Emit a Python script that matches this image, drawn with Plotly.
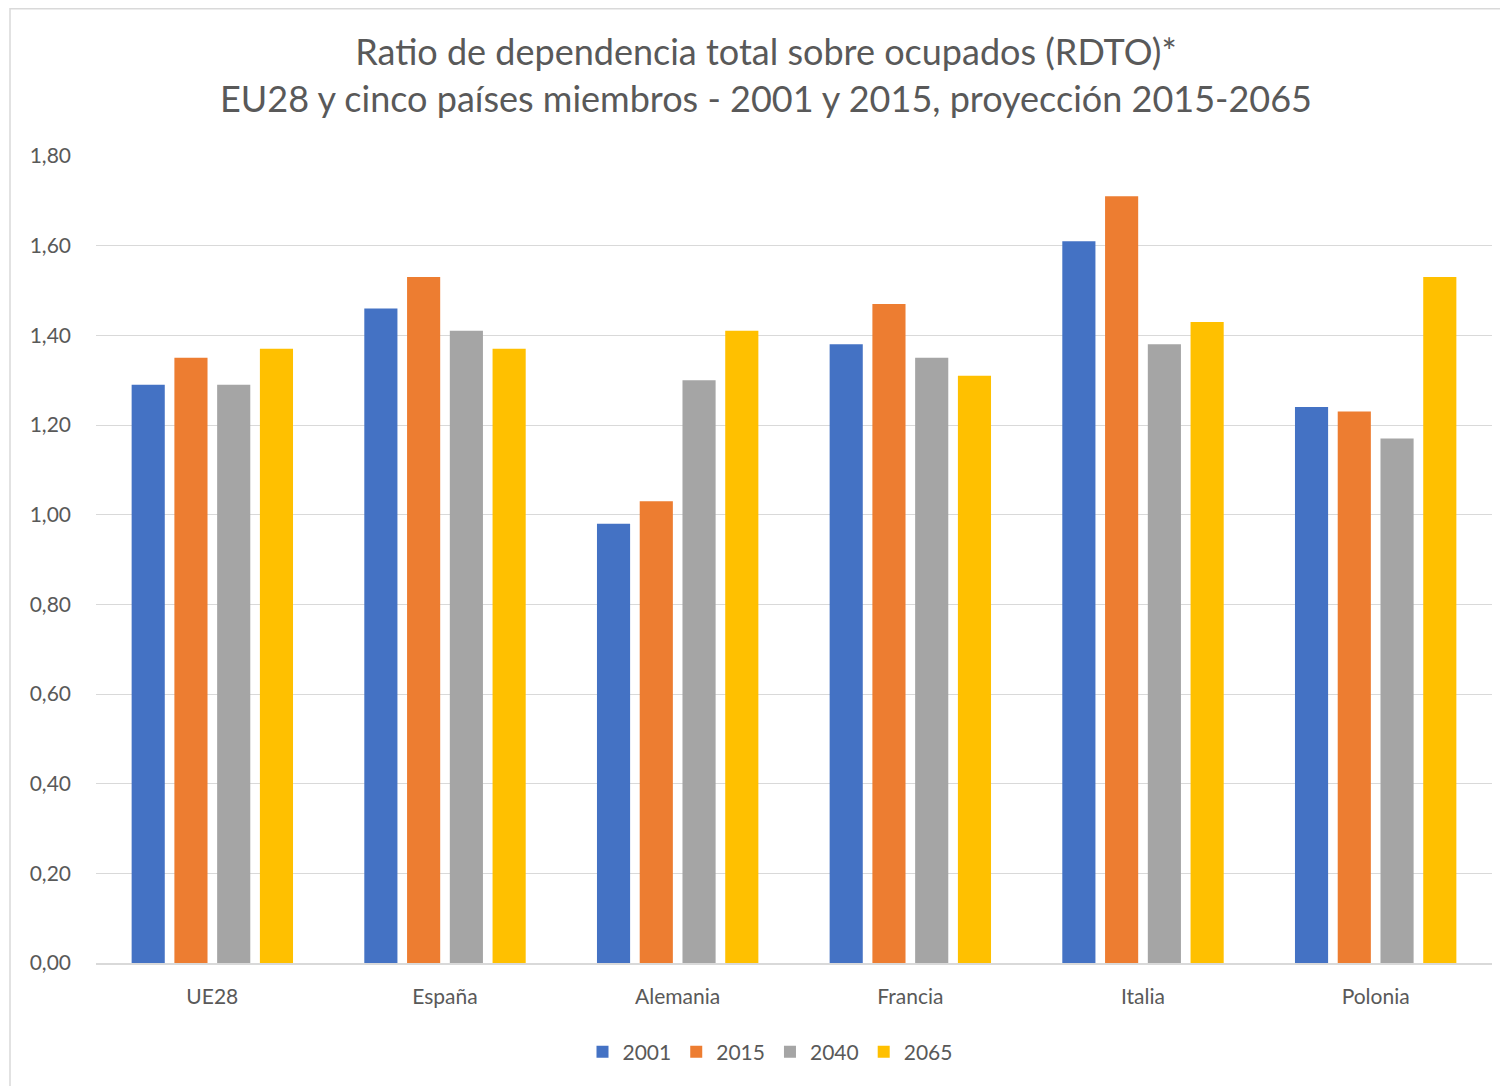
import plotly.graph_objects as go

categories = ["UE28", "España", "Alemania", "Francia", "Italia", "Polonia"]
series_names = ["2001", "2015", "2040", "2065"]
v2001 = [1.29, 1.46, 0.98, 1.38, 1.61, 1.24]
v2015 = [1.35, 1.53, 1.03, 1.47, 1.71, 1.23]
v2040 = [1.29, 1.41, 1.30, 1.35, 1.38, 1.17]
v2065 = [1.37, 1.37, 1.41, 1.31, 1.43, 1.53]
colors = ["#4472C4", "#ED7D31", "#A5A5A5", "#FFC000"]
y_ticks = [0, 0.2, 0.4, 0.6, 0.8, 1.0, 1.2, 1.4, 1.6, 1.8]

FONT = "Lato"
GRAY = "#595959"

fig = go.Figure()
for name, vals, col in zip(series_names, [v2001, v2015, v2040, v2065], colors):
    fig.add_trace(go.Bar(x=categories, y=vals, name=name, marker_color=col,
                         marker_line_width=0))

# page body has an 8px margin; figure sized to fill the rest of the window
W, H = 1500, 1078
ml, mr, mt, mb = 88, 16, 148, 123
pw, ph = W - ml - mr, H - mt - mb

def px_to_paper_x(px):
    return (px - ml) / pw

def px_to_paper_y(py):
    return (H - mb - py) / ph

fig.update_layout(
    width=W, height=H,
    margin=dict(l=ml, r=mr, t=mt, b=mb),
    paper_bgcolor="white", plot_bgcolor="white",
    separators=",.",
    barmode="group", bargap=0.265, bargroupgap=0.225,
    font=dict(family=FONT, color=GRAY, size=21),
    title=dict(
        text="Ratio de dependencia total sobre ocupados (RDTO)*<br>EU28 y cinco países miembros - 2001 y 2015, proyección 2015-2065",
        x=758 / W, xref="container", xanchor="center",
        y=1 - 57 / H, yanchor="middle",
        font=dict(family=FONT, size=36, color=GRAY),
    ),
    legend=dict(orientation="h", x=px_to_paper_x(762), xanchor="center",
                y=px_to_paper_y(1044), yanchor="middle",
                font=dict(family=FONT, size=21, color=GRAY),
                itemwidth=30, traceorder="normal"),
    xaxis=dict(showgrid=False, showline=True, linecolor="#D9D9D9", linewidth=1.5,
               ticks="", ticklabelstandoff=14,
               tickfont=dict(family=FONT, size=21, color=GRAY)),
    yaxis=dict(range=[0, 1.8], tickvals=y_ticks, tickformat=".2f",
               showgrid=True, gridcolor="#D9D9D9", gridwidth=1,
               zeroline=False, showline=False, ticks="", ticklabelstandoff=24,
               tickfont=dict(family=FONT, size=21, color=GRAY)),
    shapes=[dict(type="rect", xref="paper", yref="paper",
                 x0=px_to_paper_x(2), x1=px_to_paper_x(1530),
                 y0=px_to_paper_y(1110), y1=px_to_paper_y(0.75),
                 line=dict(color="#D9D9D9", width=1.5), layer="below")],
)

fig.write_html("out.html")
